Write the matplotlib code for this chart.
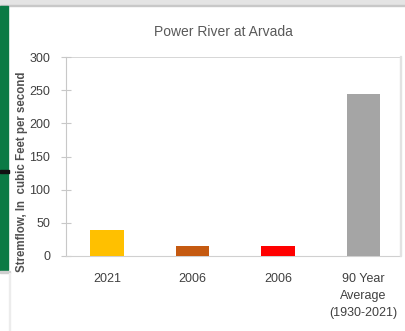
import numpy as np
import matplotlib
matplotlib.use("Agg")
import matplotlib.pyplot as plt
from matplotlib.patches import Rectangle

# ---- Data ----
categories = ['2021', '2006', '2006', '90 Year\nAverage\n(1930-2021)']
flows = [39, 15, 15, 244]
bar_colors = ['#ffc000', '#c55a11', '#ff0000', '#a5a5a5']
yticks = [0, 50, 100, 150, 200, 250, 300]

plt.rcParams['font.family'] = ['Liberation Sans', 'DejaVu Sans']

W, H = 405, 331
fig = plt.figure(figsize=(W / 100, H / 100), dpi=100)
fig.patch.set_facecolor('white')

# ---- screenshot decorations ----
fig.patches.append(Rectangle((0, 1 - 5 / H), 1, 5 / H, transform=fig.transFigure,
                             color='#e4e4e4', zorder=0))
fig.patches.append(Rectangle((0, 1 - 6 / H), 1, 1 / H, transform=fig.transFigure,
                             color='#c8c8c8', zorder=0))
fig.patches.append(Rectangle((0, 1 - 270 / H), 8 / W, 264 / H, transform=fig.transFigure,
                             color='#0b7a45', zorder=0))
fig.patches.append(Rectangle((0, 1 - 173 / H), 9 / W, 3 / H, transform=fig.transFigure,
                             color='#111111', zorder=1))
fig.patches.append(Rectangle((0, 1 - 273 / H), 10 / W, 2 / H, transform=fig.transFigure,
                             color='#cfcfcf', zorder=0))
fig.patches.append(Rectangle((9 / W, 0), 1 / W, 58 / H, transform=fig.transFigure,
                             color='#ececec', zorder=0))
fig.patches.append(Rectangle((400 / W, 1 - 256 / H), 1 / W, 200 / H, transform=fig.transFigure,
                             color='#e2e2e2', zorder=0))

# ---- Chart ----
left, right, top, bottom = 66, 400, 57, 256
ax = fig.add_axes([left / W, 1 - bottom / H, (right - left) / W, (bottom - top) / H])
ax.set_facecolor('none')

x = np.arange(len(categories))
ax.bar(x, flows, width=0.39, color=bar_colors, zorder=3)

ax.set_xlim(-0.48, 3.43)
ax.set_ylim(0, 300)
ax.set_yticks(yticks)
ax.set_xticks(x)
ax.set_xticklabels(categories, fontsize=9, color='#404040', linespacing=1.6)
ax.tick_params(axis='x', length=0, pad=12)
ax.tick_params(axis='y', labelsize=9, labelcolor='#404040', color='#c8c8c8',
               direction='inout', length=7, pad=8)

for s in ['top', 'right']:
    ax.spines[s].set_visible(False)
ax.spines['left'].set_color('#c8c8c8')
ax.spines['bottom'].set_color('#d0d0d0')
ax.axhline(300, color='#d0d0d0', lw=1.2, zorder=1)

fig.text(22 / W, 1 - 172 / H, 'Stremflow, In  cubic Feet per second', rotation=90,
         ha='center', va='center', fontsize=8.3, color='#505050', fontweight='bold')

fig.text(223 / W, 1 - 32 / H, 'Power River at Arvada', ha='center', va='center',
         fontsize=10, color='#595959')

fig.savefig('out.png', dpi=100)
